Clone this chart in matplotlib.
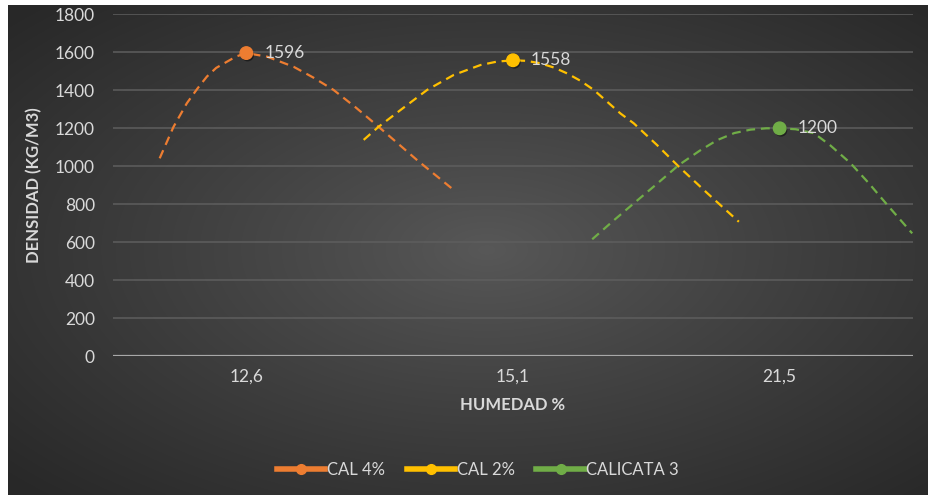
import numpy as np
import matplotlib
matplotlib.use("Agg")
import matplotlib.pyplot as plt
import matplotlib.patheffects as pe
from matplotlib.lines import Line2D

# --- data ---
categories = ["12,6", "15,1", "21,5"]
series_names = ["CAL 4%", "CAL 2%", "CALICATA 3"]
series_colors = ["#ED7D31", "#FFC000", "#70AD47"]
peak_values = [1596, 1558, 1200]

# dashed trend curves: x in category-index units, y in kg/m3
cal4_x = [-0.325, -0.273, -0.223, -0.184, -0.148, -0.113, -0.072, -0.038, 0.0,
          0.078, 0.177, 0.25, 0.327, 0.41, 0.496, 0.640, 0.778]
cal4_y = [1042, 1208, 1332, 1408, 1472, 1518, 1551, 1578, 1596,
          1577, 1524, 1468, 1402, 1310, 1208, 1033, 875]

cal2_x = [0.440, 0.496, 0.578, 0.678, 0.778, 0.878, 0.94, 1.0, 1.05, 1.103, 1.153, 1.203,
          1.253, 1.303, 1.353, 1.403, 1.453, 1.54, 1.622, 1.729, 1.847]
cal2_y = [1139, 1208, 1296, 1402, 1481, 1533, 1551, 1558, 1555, 1542, 1520, 1489,
          1450, 1402, 1340, 1278, 1226, 1112, 998, 858, 708]

cali3_x = [1.297, 1.375, 1.453, 1.54, 1.622, 1.70, 1.766, 1.83, 1.891, 1.95, 2.0, 2.06,
           2.129, 2.19, 2.266, 2.335, 2.404, 2.497]
cali3_y = [616, 712, 805, 908, 1007, 1082, 1138, 1175, 1193, 1200, 1200, 1195,
           1174, 1110, 1016, 910, 796, 647]

y_ticks = [0, 200, 400, 600, 800, 1000, 1200, 1400, 1600, 1800]

curves = [(cal4_x, cal4_y), (cal2_x, cal2_y), (cali3_x, cali3_y)]

plt.rcParams['font.family'] = ['Lato', 'DejaVu Sans']
text_col = '#d9d9d9'

W, H = 929, 495
fig = plt.figure(figsize=(W / 100, H / 100), dpi=100, facecolor='white')

# --- radial gradient background (white strip on left and top like the screenshot) ---
bg = fig.add_axes([8 / W, 0, 1 - 8 / W, 1 - 5 / H], zorder=-5)
gx, gy = np.meshgrid(np.linspace(0, 1, 460), np.linspace(0, 1, 245))
d = np.sqrt(((gx - 0.52) / 0.5) ** 2 + ((gy - 0.5) / 0.5) ** 2) / np.sqrt(2)
lum = (88 - 48 * np.clip(d, 0, 1) ** 0.9) / 255.0
bg.imshow(np.dstack([lum, lum, lum]), aspect='auto', extent=[0, 1, 0, 1], interpolation='bilinear')
bg.axis('off')

# --- plot area ---
ax = fig.add_axes([113 / W, 1 - 356.3 / H, 800 / W, (356.3 - 14.3) / H])
ax.set_facecolor('none')
ax.set_xlim(-0.5, 2.5)
ax.set_ylim(0, 1800)
ax.set_yticks(y_ticks)
ax.set_xticks(range(len(categories)))
ax.set_xticklabels(categories)
ax.tick_params(axis='both', length=0, colors=text_col, labelsize=12.5)
ax.tick_params(axis='y', pad=13)
ax.tick_params(axis='x', pad=9)
for s in ax.spines.values():
    s.set_visible(False)
ax.grid(axis='y', color='#5e5e5e', linewidth=1.1)
ax.set_axisbelow(True)
ax.axhline(0, color='#a8a8a8', linewidth=1.6, zorder=1)

ax.set_ylabel('DENSIDAD (KG/M3)', color=text_col, fontsize=12, fontweight='bold', labelpad=9)
ax.set_xlabel('HUMEDAD %', color=text_col, fontsize=12, fontweight='bold', labelpad=9)

shadow = [pe.SimplePatchShadow(offset=(1, -1.5), shadow_rgbFace='black', alpha=0.45), pe.Normal()]
for (cx, cy), col, peak, i in zip(curves, series_colors, peak_values, range(3)):
    ax.plot(cx, cy, color=col, linewidth=1.6, linestyle=(0, (4, 2.6)), zorder=3)
    ax.plot([i], [peak], marker='o', markersize=9, color=col, linestyle='none',
            zorder=4, path_effects=shadow)
    ax.annotate(str(peak), (i, peak), xytext=(13, 0), textcoords='offset points',
                ha='left', va='center', color=text_col, fontsize=12.5, zorder=5)

handles = [Line2D([], [], color=c, linewidth=4, marker='o', markersize=7) for c in series_colors]
leg = fig.legend(handles, series_names, loc='center', bbox_to_anchor=(478 / W, 1 - 470 / H),
                 ncol=3, frameon=False, fontsize=12, handlelength=2.9, handletextpad=0.1,
                 columnspacing=1.3, labelcolor=text_col)

fig.savefig('out.png', dpi=100, facecolor=fig.get_facecolor())
